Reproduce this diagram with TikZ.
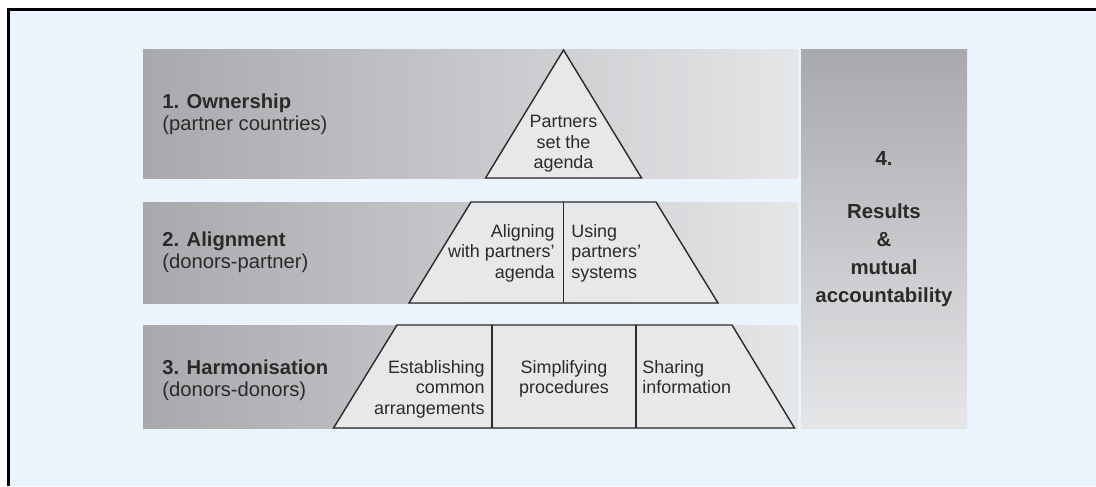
\documentclass[tikz,border=0pt]{standalone}
\usepackage{fontspec}
\setmainfont{Liberation Sans}
\usepackage{tikz}
\definecolor{paleblue}{HTML}{EBF4FD}
\definecolor{bandgrey}{HTML}{A7A9AC}
\definecolor{bandlight}{HTML}{E4E6E8}
\definecolor{cellgrey}{HTML}{E7E8E9}
\definecolor{inkgrey}{HTML}{2A2A2A}
\tikzset{%
  band/.style     = {shape=rectangle, inner sep=0pt,%
                     left color=bandgrey, right color=bandlight},%
  pillar/.style   = {shape=rectangle, inner sep=0pt,%
                     top color=bandgrey, bottom color=bandlight},%
  cell/.style     = {fill=cellgrey, draw=inkgrey, line width=0.8pt},%
  caption/.style  = {anchor=west, align=left, inner sep=0pt,%
                     font=\fontsize{11.5}{12.6}\selectfont},%
  celltext/.style = {inner sep=0pt, font=\fontsize{10.2}{11.6}\selectfont}%
}

\begin{document}
\begin{tikzpicture}[every node/.style={text=inkgrey}]
	\useasboundingbox (0,0) rectangle (21.92,9.72);
	\fill[white] (0,0) rectangle (21.92,9.72);
	\fill[paleblue] (0.174,0) rectangle (21.92,9.53);
	\draw[line width=1.4pt] (0.174,0) -- (0.174,9.53) -- (21.92,9.53);
	% the three layers and the column on the right
	\node[band, minimum width=13.1cm, minimum height=2.56cm] (own) at (9.41,7.44) {};
	\node[band, minimum width=13.1cm, minimum height=2.02cm] (align) at (9.41,4.67) {};
	\node[band, minimum width=13.1cm, minimum height=2.06cm] (harmon) at (9.41,2.19) {};
	\node[pillar, minimum width=3.32cm, minimum height=7.56cm] (results) at (17.68,4.94) {};
	\node[caption] (own-txt) at (3.24,7.44) {\textbf{1. Ownership}\\(partner countries)};
	\node[caption] (align-txt) at (3.24,4.67) {\textbf{2. Alignment}\\(donors-partner)};
	\node[caption] (harmon-txt) at (3.24,2.12) {\textbf{3. Harmonisation}\\(donors-donors)};
	% pyramid
	\draw[cell] (11.27,8.72) -- (12.83,6.16) -- (9.71,6.16) -- cycle;
	\draw[cell] (9.42,5.68) -- (13.12,5.68) -- (14.36,3.66) -- (8.18,3.66) -- cycle;
	\draw[cell] (11.27,5.68) -- (11.27,3.66);
	\draw[cell] (7.94,3.22) -- (14.64,3.22) -- (15.89,1.16) -- (6.67,1.16) -- cycle;
	\draw[cell] (9.84,3.22) -- (9.84,1.16);
	\draw[cell] (12.72,3.22) -- (12.72,1.16);
	\node[celltext, align=center] (agenda) at (11.27,6.84) {Partners\\set the\\agenda};
	\node[celltext, align=right, anchor=east] (aligning) at (11.10,4.66) {Aligning\\with partners'\\agenda};
	\node[celltext, align=left, anchor=west] (using) at (11.42,4.66) {Using\\partners'\\systems};
	\node[celltext, align=right, anchor=north east] (establish) at (9.70,2.52) {Establishing\\common\\arrangements};
	\node[celltext, align=center, anchor=north] (simplify) at (11.28,2.52) {Simplifying\\procedures};
	\node[celltext, align=left, anchor=north west] (sharing) at (12.84,2.52) {Sharing\\information};
	\node[align=center, inner sep=0pt, font=\fontsize{11.6}{15.9}\selectfont\bfseries]
		(results-txt) at (17.68,5.14) {4.\\[14pt]Results\\\&\\mutual\\accountability};
\end{tikzpicture}
\end{document}
